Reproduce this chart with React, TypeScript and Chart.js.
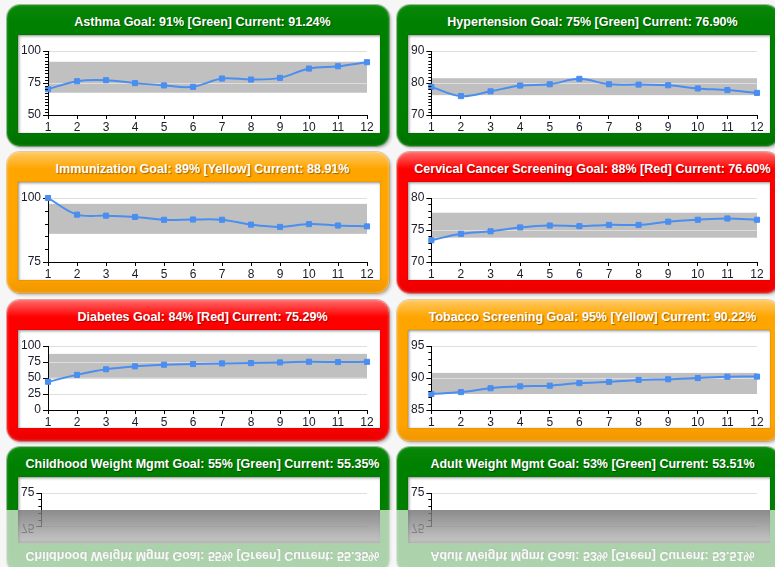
import React, { useEffect, useRef } from 'react';
import { Chart, registerables } from 'chart.js';

Chart.register(...registerables);

// ---------- data ----------
const monthLabels = ['1', '2', '3', '4', '5', '6', '7', '8', '9', '10', '11', '12'];

const asthmaTitle = 'Asthma Goal: 91% [Green] Current: 91.24%';
const asthmaValues = [70.2, 76.4, 77.2, 74.9, 73.1, 72.0, 78.5, 77.7, 79.0, 86.3, 88.1, 91.24];
const asthmaBand = [67.4, 91.6];
const asthmaAxis = [50, 100, 25, 2.5];

const hypertensionTitle = 'Hypertension Goal: 75% [Green] Current: 76.90%';
const hypertensionValues = [78.8, 75.9, 77.4, 79.2, 79.6, 81.3, 79.6, 79.5, 79.3, 78.3, 77.8, 76.9];
const hypertensionBand = [76.2, 81.5];
const hypertensionAxis = [70, 90, 10, 1];

const immunizationTitle = 'Immunization Goal: 89% [Yellow] Current: 88.91%';
const immunizationValues = [100, 93.5, 93.1, 92.6, 91.5, 91.6, 91.5, 89.6, 88.7, 89.8, 89.25, 88.91];
const immunizationBand = [86.0, 97.7];
const immunizationAxis = [75, 100, 25, 5];

const cervicalTitle = 'Cervical Cancer Screening Goal: 88% [Red] Current: 76.60%';
const cervicalValues = [73.4, 74.4, 74.8, 75.4, 75.7, 75.6, 75.8, 75.8, 76.3, 76.6, 76.8, 76.6];
const cervicalBand = [73.8, 77.7];
const cervicalAxis = [70, 80, 5, 1];

const diabetesTitle = 'Diabetes Goal: 84% [Red] Current: 75.29%';
const diabetesValues = [44.1, 54.9, 63.6, 68.2, 70.8, 71.8, 72.8, 73.3, 74.4, 75.4, 74.9, 75.29];
const diabetesBand = [50.3, 87.7];
const diabetesAxis = [0, 100, 25, 0];

const tobaccoTitle = 'Tobacco Screening Goal: 95% [Yellow] Current: 90.22%';
const tobaccoValues = [87.5, 87.8, 88.4, 88.7, 88.8, 89.2, 89.4, 89.7, 89.8, 90.0, 90.2, 90.22];
const tobaccoBand = [87.5, 90.8];
const tobaccoAxis = [85, 95, 5, 1];

const childhoodTitle = 'Childhood Weight Mgmt Goal: 55% [Green] Current: 55.35%';
const childhoodValues = [49.0, 50.5, 51.8, 52.6, 53.2, 53.9, 54.3, 54.6, 54.9, 55.1, 55.2, 55.35];
const childhoodBand = [45.0, 60.0];
const childhoodAxis = [25, 75, 25, 5];

const adultTitle = 'Adult Weight Mgmt Goal: 53% [Green] Current: 53.51%';
const adultValues = [46.0, 47.8, 49.1, 50.2, 51.0, 51.6, 52.1, 52.5, 52.9, 53.2, 53.4, 53.51];
const adultBand = [43.0, 58.0];
const adultAxis = [25, 75, 25, 5];

// ---------- styling ----------
const BLUE = '#4a8ef0';
const FONT = '"Liberation Sans", Arial, sans-serif';

const FRAMES: Record<string, { bg: string; shadow: string }> = {
  green: {
    bg: 'linear-gradient(to bottom, #0a870a 0%, #008000 12%, #007d00 88%, #006e00 100%)',
    shadow: '0 0 0 1px rgba(0,70,0,0.35), 2px 2px 3px rgba(0,0,0,0.25), inset 0 0 3px rgba(120,255,120,0.35)',
  },
  yellow: {
    bg: 'linear-gradient(to bottom, #ffc964 0%, #ffa500 12%, #ffa300 88%, #f09600 100%)',
    shadow: '0 0 0 1px rgba(200,120,0,0.35), 2px 2px 3px rgba(0,0,0,0.25), inset 0 0 3px rgba(255,240,200,0.45)',
  },
  red: {
    bg: 'linear-gradient(to bottom, #ff6a6a 0%, #ff0000 12%, #fd0000 88%, #e80000 100%)',
    shadow: '0 0 0 1px rgba(180,0,0,0.35), 2px 2px 3px rgba(0,0,0,0.25), inset 0 0 3px rgba(255,200,200,0.45)',
  },
};

const COLS = [7, 397];
const ROWS = [5, 152, 300, 447];
const PANEL_W = 382;
const PANEL_H = 141;
const BOX_W = 362;
const BOX_H = 98;

type PanelDef = {
  title: string;
  status: string;
  values: number[];
  band: number[];
  axis: number[];
  left: number;
  top: number;
};

const panels: PanelDef[] = [
  { title: asthmaTitle, status: 'green', values: asthmaValues, band: asthmaBand, axis: asthmaAxis, left: COLS[0], top: ROWS[0] },
  { title: hypertensionTitle, status: 'green', values: hypertensionValues, band: hypertensionBand, axis: hypertensionAxis, left: COLS[1], top: ROWS[0] },
  { title: immunizationTitle, status: 'yellow', values: immunizationValues, band: immunizationBand, axis: immunizationAxis, left: COLS[0], top: ROWS[1] },
  { title: cervicalTitle, status: 'red', values: cervicalValues, band: cervicalBand, axis: cervicalAxis, left: COLS[1], top: ROWS[1] },
  { title: diabetesTitle, status: 'red', values: diabetesValues, band: diabetesBand, axis: diabetesAxis, left: COLS[0], top: ROWS[2] },
  { title: tobaccoTitle, status: 'yellow', values: tobaccoValues, band: tobaccoBand, axis: tobaccoAxis, left: COLS[1], top: ROWS[2] },
  { title: childhoodTitle, status: 'green', values: childhoodValues, band: childhoodBand, axis: childhoodAxis, left: COLS[0], top: ROWS[3] },
  { title: adultTitle, status: 'green', values: adultValues, band: adultBand, axis: adultAxis, left: COLS[1], top: ROWS[3] },
];

const MIRROR_Y = 510;

function MiniChart({ values, band, axis }: { values: number[]; band: number[]; axis: number[] }) {
  const ref = useRef<HTMLCanvasElement>(null);
  useEffect(() => {
    const [min, max, major, minor] = axis;
    const isMajor = (v: number) => Math.abs(v / major - Math.round(v / major)) < 1e-6;
    const bandPlugin = {
      id: 'goalBand',
      beforeDraw(chart: any) {
        const { ctx, chartArea, scales } = chart;
        const y = scales.y;
        const top = y.getPixelForValue(band[1]);
        const bottom = y.getPixelForValue(band[0]);
        ctx.save();
        ctx.fillStyle = '#c0c0c0';
        ctx.fillRect(chartArea.left, top, chartArea.right - chartArea.left, bottom - top);
        ctx.restore();
      },
    };
    const minorPlugin = {
      id: 'minorTicks',
      afterDraw(chart: any) {
        if (!minor) return;
        const { ctx, chartArea, scales } = chart;
        const y = scales.y;
        const x0 = chartArea.left;
        ctx.save();
        ctx.strokeStyle = '#000';
        ctx.lineWidth = 1;
        ctx.beginPath();
        const n = Math.round((max - min) / minor);
        for (let i = 1; i < n; i++) {
          const v = min + i * minor;
          if (isMajor(v)) continue;
          const py = Math.round(y.getPixelForValue(v)) + 0.5;
          ctx.moveTo(x0 - 3, py);
          ctx.lineTo(x0, py);
        }
        ctx.stroke();
        ctx.restore();
      },
    };
    const chart = new Chart(ref.current as HTMLCanvasElement, {
      type: 'line',
      data: {
        labels: monthLabels,
        datasets: [
          {
            data: values,
            borderColor: BLUE,
            backgroundColor: BLUE,
            borderWidth: 2,
            pointStyle: 'rect',
            pointRadius: 3.6,
            pointBorderWidth: 1,
            pointBorderColor: BLUE,
            pointBackgroundColor: BLUE,
            tension: 0.35,
            fill: false,
            clip: false as any,
          },
        ],
      },
      options: {
        responsive: false,
        animation: false,
        events: [],
        layout: { padding: { left: 1, top: 16, right: 13, bottom: 0 } },
        plugins: { legend: { display: false }, tooltip: { enabled: false } },
        scales: {
          x: {
            offset: false,
            grid: { drawOnChartArea: false, drawTicks: true, tickLength: 4, tickColor: '#000' },
            border: { color: '#000', width: 1 },
            afterFit: (s: any) => {
              s.height = 18;
            },
            ticks: {
              color: '#1a1a2a',
              padding: 3,
              font: { family: FONT, size: 12, lineHeight: 1 },
              maxRotation: 0,
              autoSkip: false,
            },
          },
          y: {
            min,
            max,
            grid: {
              color: (c: any) => (c.tick && Math.abs(c.tick.value - min) < 1e-9 ? 'rgba(0,0,0,0)' : '#dedede'),
              tickColor: '#000',
              tickLength: 5,
            },
            border: { color: '#000', width: 1 },
            ticks: {
              stepSize: major,
              color: '#1a1a2a',
              padding: 2,
              autoSkip: false,
              font: { family: FONT, size: 12 },
            },
          },
        },
      },
      plugins: [bandPlugin, minorPlugin],
    } as any);
    return () => chart.destroy();
  }, []);
  return <canvas ref={ref} width={BOX_W} height={BOX_H} style={{ position: 'absolute', left: 0, top: 0 }} />;
}

function Panel({ p, top }: { p: PanelDef; top: number }) {
  const frame = FRAMES[p.status];
  return (
    <div
      style={{
        position: 'absolute',
        left: p.left,
        top,
        width: PANEL_W,
        height: PANEL_H,
        borderRadius: 13,
        background: frame.bg,
        boxShadow: frame.shadow,
      }}
    >
      <div
        style={{
          position: 'absolute',
          left: 9,
          right: 0,
          top: 10,
          height: 15,
          lineHeight: '15px',
          textAlign: 'center',
          color: '#fff',
          fontFamily: FONT,
          fontWeight: 'bold',
          fontSize: 12.5,
          whiteSpace: 'nowrap',
          textShadow: '1px 1px 1px rgba(0,0,0,0.4)',
        }}
      >
        {p.title}
      </div>
      <div
        style={{
          position: 'absolute',
          left: 11,
          top: 30,
          width: BOX_W,
          height: BOX_H,
          background: '#fff',
          boxShadow: 'inset 1px 1px 3px rgba(0,0,0,0.45), 0 0 1px rgba(0,0,0,0.35)',
        }}
      >
        <MiniChart values={p.values} band={p.band} axis={p.axis} />
      </div>
    </div>
  );
}

export default function App() {
  const bottom = panels.filter((p) => p.top === ROWS[3]);
  return (
    <div
      style={{
        position: 'fixed',
        left: 0,
        top: 0,
        width: 775,
        height: 567,
        overflow: 'hidden',
        background: '#f6f6f6',
        fontFamily: FONT,
      }}
    >
      {panels.map((p, i) => (
        <Panel key={i} p={p} top={p.top} />
      ))}
      <div
        style={{
          position: 'absolute',
          left: 0,
          top: MIRROR_Y,
          width: 775,
          height: 567 - MIRROR_Y,
          overflow: 'hidden',
          background: '#f6f6f6',
        }}
      >
        <div
          style={{
            position: 'absolute',
            left: 0,
            top: 0,
            width: 775,
            height: 0,
            transform: 'scaleY(-1)',
            transformOrigin: 'top',
            opacity: 0.3,
          }}
        >
          {bottom.map((p, i) => (
            <Panel key={'m' + i} p={p} top={p.top - MIRROR_Y} />
          ))}
        </div>
        {bottom.map((p, i) => (
          <div
            key={'o' + i}
            style={{
              position: 'absolute',
              left: p.left + 11,
              top: 0,
              width: BOX_W,
              height: MIRROR_Y - (p.top + 30),
              background: 'linear-gradient(to bottom, rgba(0,0,0,0.44), rgba(0,0,0,0.2))',
            }}
          />
        ))}
      </div>
    </div>
  );
}
